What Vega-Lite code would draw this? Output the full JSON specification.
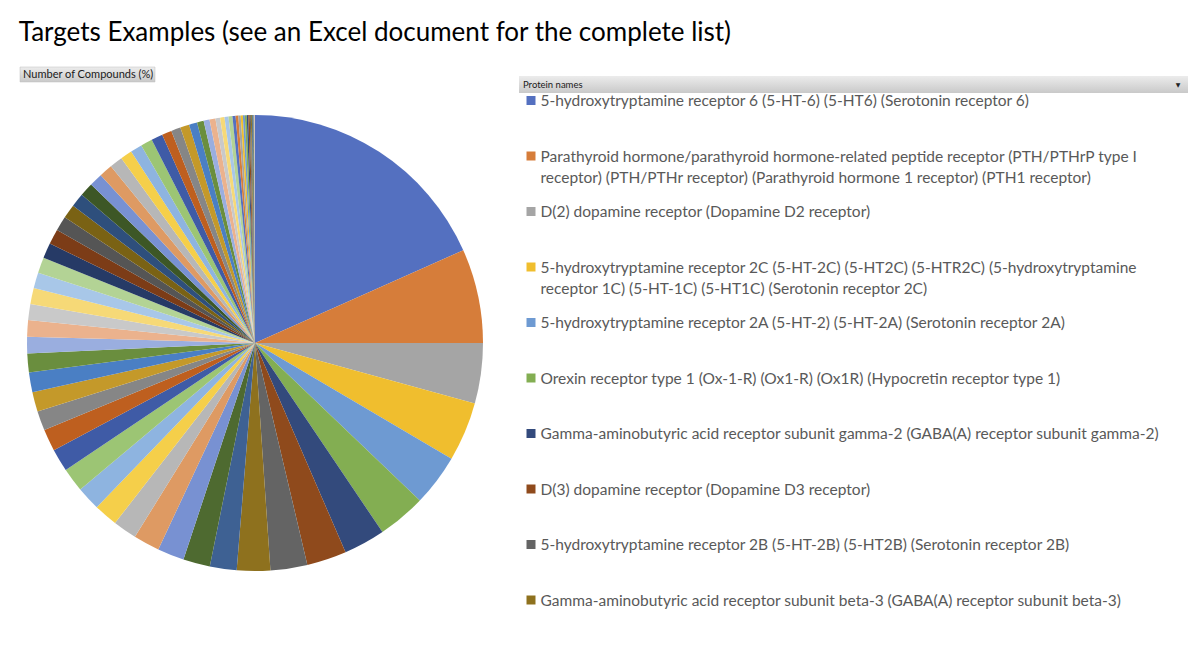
{
  "$schema": "https://vega.github.io/schema/vega-lite/v6.json",
  "padding": {"left": 18, "top": 19, "right": 5, "bottom": 4},
  "background": "white",
  "title": {"text": "Targets Examples (see an Excel document for the complete list)", "anchor": "start", "font": "Lato", "fontSize": 26, "fontWeight": "normal", "color": "#000000", "offset": 21, "dx": -1},
  "config": {"view": {"stroke": null}},
  "datasets": {
    "targets": [
      {"rank": 1, "name": "5-hydroxytryptamine receptor 6 (5-HT-6) (5-HT6) (Serotonin receptor 6)", "pct": 18.33},
      {"rank": 2, "name": "Parathyroid hormone/parathyroid hormone-related peptide receptor (PTH/PTHrP type I\nreceptor) (PTH/PTHr receptor) (Parathyroid hormone 1 receptor) (PTH1 receptor)", "pct": 6.67},
      {"rank": 3, "name": "D(2) dopamine receptor (Dopamine D2 receptor)", "pct": 4.28},
      {"rank": 4, "name": "5-hydroxytryptamine receptor 2C (5-HT-2C) (5-HT2C) (5-HTR2C) (5-hydroxytryptamine\nreceptor 1C) (5-HT-1C) (5-HT1C) (Serotonin receptor 2C)", "pct": 4.19},
      {"rank": 5, "name": "5-hydroxytryptamine receptor 2A (5-HT-2) (5-HT-2A) (Serotonin receptor 2A)", "pct": 3.67},
      {"rank": 6, "name": "Orexin receptor type 1 (Ox-1-R) (Ox1-R) (Ox1R) (Hypocretin receptor type 1)", "pct": 3.42},
      {"rank": 7, "name": "Gamma-aminobutyric acid receptor subunit gamma-2 (GABA(A) receptor subunit gamma-2)", "pct": 2.94},
      {"rank": 8, "name": "D(3) dopamine receptor (Dopamine D3 receptor)", "pct": 2.81},
      {"rank": 9, "name": "5-hydroxytryptamine receptor 2B (5-HT-2B) (5-HT2B) (Serotonin receptor 2B)", "pct": 2.61},
      {"rank": 10, "name": "Gamma-aminobutyric acid receptor subunit beta-3 (GABA(A) receptor subunit beta-3)", "pct": 2.36},
      {"rank": 11, "name": "Other target 11", "pct": 1.9},
      {"rank": 12, "name": "Other target 12", "pct": 1.9},
      {"rank": 13, "name": "Other target 13", "pct": 1.89},
      {"rank": 14, "name": "Other target 14", "pct": 1.86},
      {"rank": 15, "name": "Other target 15", "pct": 1.69},
      {"rank": 16, "name": "Other target 16", "pct": 1.69},
      {"rank": 17, "name": "Other target 17", "pct": 1.69},
      {"rank": 18, "name": "Other target 18", "pct": 1.69},
      {"rank": 19, "name": "Other target 19", "pct": 1.61},
      {"rank": 20, "name": "Other target 20", "pct": 1.56},
      {"rank": 21, "name": "Other target 21", "pct": 1.39},
      {"rank": 22, "name": "Other target 22", "pct": 1.39},
      {"rank": 23, "name": "Other target 23", "pct": 1.39},
      {"rank": 24, "name": "Other target 24", "pct": 1.33},
      {"rank": 25, "name": "Other target 25", "pct": 1.17},
      {"rank": 26, "name": "Other target 26", "pct": 1.17},
      {"rank": 27, "name": "Other target 27", "pct": 1.14},
      {"rank": 28, "name": "Other target 28", "pct": 1.14},
      {"rank": 29, "name": "Other target 29", "pct": 1.11},
      {"rank": 30, "name": "Other target 30", "pct": 1.11},
      {"rank": 31, "name": "Other target 31", "pct": 1.08},
      {"rank": 32, "name": "Other target 32", "pct": 1.08},
      {"rank": 33, "name": "Other target 33", "pct": 1.03},
      {"rank": 34, "name": "Other target 34", "pct": 1.0},
      {"rank": 35, "name": "Other target 35", "pct": 0.97},
      {"rank": 36, "name": "Other target 36", "pct": 0.97},
      {"rank": 37, "name": "Other target 37", "pct": 0.94},
      {"rank": 38, "name": "Other target 38", "pct": 0.94},
      {"rank": 39, "name": "Other target 39", "pct": 0.92},
      {"rank": 40, "name": "Other target 40", "pct": 0.83},
      {"rank": 41, "name": "Other target 41", "pct": 0.83},
      {"rank": 42, "name": "Other target 42", "pct": 0.83},
      {"rank": 43, "name": "Other target 43", "pct": 0.81},
      {"rank": 44, "name": "Other target 44", "pct": 0.69},
      {"rank": 45, "name": "Other target 45", "pct": 0.67},
      {"rank": 46, "name": "Other target 46", "pct": 0.64},
      {"rank": 47, "name": "Other target 47", "pct": 0.58},
      {"rank": 48, "name": "Other target 48", "pct": 0.47},
      {"rank": 49, "name": "Other target 49", "pct": 0.42},
      {"rank": 50, "name": "Other target 50", "pct": 0.42},
      {"rank": 51, "name": "Other target 51", "pct": 0.33},
      {"rank": 52, "name": "Other target 52", "pct": 0.31},
      {"rank": 53, "name": "Other target 53", "pct": 0.28},
      {"rank": 54, "name": "Other target 54", "pct": 0.28},
      {"rank": 55, "name": "Other target 55", "pct": 0.22},
      {"rank": 56, "name": "Other target 56", "pct": 0.19},
      {"rank": 57, "name": "Other target 57", "pct": 0.17},
      {"rank": 58, "name": "Other target 58", "pct": 0.15},
      {"rank": 59, "name": "Other target 59", "pct": 0.14},
      {"rank": 60, "name": "Other target 60", "pct": 0.13},
      {"rank": 61, "name": "Other target 61", "pct": 0.11},
      {"rank": 62, "name": "Other target 62", "pct": 0.1},
      {"rank": 63, "name": "Other target 63", "pct": 0.08},
      {"rank": 64, "name": "Other target 64", "pct": 0.07},
      {"rank": 65, "name": "Other target 65", "pct": 0.06},
      {"rank": 66, "name": "Other target 66", "pct": 0.06},
      {"rank": 67, "name": "Other target 67", "pct": 0.04},
      {"rank": 68, "name": "Other target 68", "pct": 0.03},
      {"rank": 69, "name": "Other target 69", "pct": 0.03}
    ]
  },
  "spacing": 29,
  "hconcat": [
    {
      "spacing": 25,
      "vconcat": [
        {
          "width": 135,
          "height": 15,
          "data": {"values": [{"label": "Number of Compounds (%)"}]},
          "layer": [
            {"mark": {"type": "rect", "fill": {"gradient": "linear", "x1": 0, "y1": 0, "x2": 0, "y2": 1, "stops": [{"offset": 0, "color": "#ececec"}, {"offset": 1, "color": "#c9c9c9"}]}, "stroke": "#bdbdbd", "strokeWidth": 0.5}, "encoding": {}},
            {"mark": {"type": "text", "font": "Lato", "fontSize": 11, "color": "#1a1a1a", "align": "left", "baseline": "middle", "dx": 3}, "encoding": {"text": {"field": "label"}, "x": {"datum": 0, "type": "quantitative", "scale": {"domain": [0, 1]}, "axis": null}}}
          ]
        },
        {
          "width": 470,
          "height": 470,
          "data": {"name": "targets"},
          "mark": {"type": "arc", "outerRadius": 228},
          "encoding": {
            "theta": {"field": "pct", "type": "quantitative", "stack": true},
            "order": {"field": "rank", "type": "quantitative"},
            "color": {
              "field": "name", "type": "nominal", "legend": null,
              "scale": {
                "domain": [
                  "5-hydroxytryptamine receptor 6 (5-HT-6) (5-HT6) (Serotonin receptor 6)",
                  "Parathyroid hormone/parathyroid hormone-related peptide receptor (PTH/PTHrP type I\nreceptor) (PTH/PTHr receptor) (Parathyroid hormone 1 receptor) (PTH1 receptor)",
                  "D(2) dopamine receptor (Dopamine D2 receptor)",
                  "5-hydroxytryptamine receptor 2C (5-HT-2C) (5-HT2C) (5-HTR2C) (5-hydroxytryptamine\nreceptor 1C) (5-HT-1C) (5-HT1C) (Serotonin receptor 2C)",
                  "5-hydroxytryptamine receptor 2A (5-HT-2) (5-HT-2A) (Serotonin receptor 2A)",
                  "Orexin receptor type 1 (Ox-1-R) (Ox1-R) (Ox1R) (Hypocretin receptor type 1)",
                  "Gamma-aminobutyric acid receptor subunit gamma-2 (GABA(A) receptor subunit gamma-2)",
                  "D(3) dopamine receptor (Dopamine D3 receptor)",
                  "5-hydroxytryptamine receptor 2B (5-HT-2B) (5-HT2B) (Serotonin receptor 2B)",
                  "Gamma-aminobutyric acid receptor subunit beta-3 (GABA(A) receptor subunit beta-3)",
                  "Other target 11", "Other target 12", "Other target 13", "Other target 14", "Other target 15", "Other target 16", "Other target 17", "Other target 18", "Other target 19", "Other target 20",
                  "Other target 21", "Other target 22", "Other target 23", "Other target 24", "Other target 25", "Other target 26", "Other target 27", "Other target 28", "Other target 29", "Other target 30",
                  "Other target 31", "Other target 32", "Other target 33", "Other target 34", "Other target 35", "Other target 36", "Other target 37", "Other target 38", "Other target 39", "Other target 40",
                  "Other target 41", "Other target 42", "Other target 43", "Other target 44", "Other target 45", "Other target 46", "Other target 47", "Other target 48", "Other target 49", "Other target 50",
                  "Other target 51", "Other target 52", "Other target 53", "Other target 54", "Other target 55", "Other target 56", "Other target 57", "Other target 58", "Other target 59", "Other target 60",
                  "Other target 61", "Other target 62", "Other target 63", "Other target 64", "Other target 65", "Other target 66", "Other target 67", "Other target 68", "Other target 69"
                ],
                "range": [
                  "#5470C0", "#D67D3A", "#A5A5A5", "#F0BE2E", "#6E9AD2", "#83AE52",
                  "#334A7C", "#8F4A1C", "#646464", "#8E711E", "#3E6193", "#4E6A30",
                  "#7891D2", "#DE9A63", "#B7B7B7", "#F5CF4A", "#8EB4E0", "#9CC574",
                  "#3F5BA6", "#BE5F1F", "#868686", "#C4992A", "#4A7FC4", "#6A8E3E",
                  "#9AAEDF", "#EBB28D", "#C9C9C9", "#F6D977", "#A8C7E8", "#B3D395",
                  "#263A66", "#7C3C17", "#555555", "#7A6214", "#2E4F7C", "#3D5726",
                  "#7891D2", "#DE9A63", "#B7B7B7", "#F5CF4A", "#8EB4E0", "#9CC574",
                  "#3F5BA6", "#BE5F1F", "#868686", "#C4992A", "#4A7FC4", "#6A8E3E",
                  "#9AAEDF", "#EBB28D", "#C9C9C9", "#F6D977", "#A8C7E8", "#B3D395",
                  "#5470C0", "#D67D3A", "#A5A5A5", "#F0BE2E", "#6E9AD2", "#83AE52",
                  "#334A7C", "#8F4A1C", "#646464", "#8E711E", "#3E6193", "#4E6A30",
                  "#7891D2", "#DE9A63", "#B7B7B7"
                ]
              }
            }
          }
        }
      ]
    },
    {
      "spacing": 0,
      "vconcat": [
        {"width": 669, "height": 9, "data": {"values": []}, "mark": {"type": "rect", "opacity": 0}, "encoding": {}},
        {
          "width": 669,
          "height": 17,
          "data": {"values": [{"label": "Protein names", "arrow": "▼"}]},
          "encoding": {"x": {"datum": 0, "type": "quantitative", "scale": {"domain": [0, 1]}, "axis": null}},
          "layer": [
            {"mark": {"type": "rect", "fill": {"gradient": "linear", "x1": 0, "y1": 0, "x2": 0, "y2": 1, "stops": [{"offset": 0, "color": "#ececec"}, {"offset": 1, "color": "#c9c9c9"}]}}, "encoding": {"x": null}},
            {"mark": {"type": "text", "font": "Lato", "fontSize": 9.5, "color": "#1a1a1a", "align": "left", "baseline": "middle", "dx": 4}, "encoding": {"text": {"field": "label"}}},
            {"mark": {"type": "text", "font": "DejaVu Sans", "fontSize": 6, "color": "#222222", "align": "center", "baseline": "middle", "dx": -10}, "encoding": {"text": {"field": "arrow"}, "x": {"datum": 1, "type": "quantitative"}}}
          ]
        },
        {
          "width": 669,
          "height": 555,
          "data": {"name": "targets"},
          "transform": [{"filter": "datum.rank <= 10"}],
          "encoding": {
            "y": {"field": "name", "type": "nominal", "sort": {"field": "rank", "op": "min"}, "bandPosition": 0, "scale": {"type": "band", "paddingInner": 0, "paddingOuter": 0}, "axis": null},
            "x": {"datum": 0, "type": "quantitative", "scale": {"domain": [0, 1]}, "axis": null}
          },
          "layer": [
            {
              "mark": {"type": "square", "size": 81, "opacity": 1, "xOffset": 12, "yOffset": 7.5},
              "encoding": {
                "color": {
                  "field": "name", "type": "nominal", "legend": null,
                  "scale": {
                    "domain": [
                      "5-hydroxytryptamine receptor 6 (5-HT-6) (5-HT6) (Serotonin receptor 6)",
                      "Parathyroid hormone/parathyroid hormone-related peptide receptor (PTH/PTHrP type I\nreceptor) (PTH/PTHr receptor) (Parathyroid hormone 1 receptor) (PTH1 receptor)",
                      "D(2) dopamine receptor (Dopamine D2 receptor)",
                      "5-hydroxytryptamine receptor 2C (5-HT-2C) (5-HT2C) (5-HTR2C) (5-hydroxytryptamine\nreceptor 1C) (5-HT-1C) (5-HT1C) (Serotonin receptor 2C)",
                      "5-hydroxytryptamine receptor 2A (5-HT-2) (5-HT-2A) (Serotonin receptor 2A)",
                      "Orexin receptor type 1 (Ox-1-R) (Ox1-R) (Ox1R) (Hypocretin receptor type 1)",
                      "Gamma-aminobutyric acid receptor subunit gamma-2 (GABA(A) receptor subunit gamma-2)",
                      "D(3) dopamine receptor (Dopamine D3 receptor)",
                      "5-hydroxytryptamine receptor 2B (5-HT-2B) (5-HT2B) (Serotonin receptor 2B)",
                      "Gamma-aminobutyric acid receptor subunit beta-3 (GABA(A) receptor subunit beta-3)",
                      "Other target 11", "Other target 12", "Other target 13", "Other target 14", "Other target 15", "Other target 16", "Other target 17", "Other target 18", "Other target 19", "Other target 20",
                      "Other target 21", "Other target 22", "Other target 23", "Other target 24", "Other target 25", "Other target 26", "Other target 27", "Other target 28", "Other target 29", "Other target 30",
                      "Other target 31", "Other target 32", "Other target 33", "Other target 34", "Other target 35", "Other target 36", "Other target 37", "Other target 38", "Other target 39", "Other target 40",
                      "Other target 41", "Other target 42", "Other target 43", "Other target 44", "Other target 45", "Other target 46", "Other target 47", "Other target 48", "Other target 49", "Other target 50",
                      "Other target 51", "Other target 52", "Other target 53", "Other target 54", "Other target 55", "Other target 56", "Other target 57", "Other target 58", "Other target 59", "Other target 60",
                      "Other target 61", "Other target 62", "Other target 63", "Other target 64", "Other target 65", "Other target 66", "Other target 67", "Other target 68", "Other target 69"
                    ],
                    "range": [
                      "#5470C0", "#D67D3A", "#A5A5A5", "#F0BE2E", "#6E9AD2", "#83AE52",
                      "#334A7C", "#8F4A1C", "#646464", "#8E711E", "#3E6193", "#4E6A30",
                      "#7891D2", "#DE9A63", "#B7B7B7", "#F5CF4A", "#8EB4E0", "#9CC574",
                      "#3F5BA6", "#BE5F1F", "#868686", "#C4992A", "#4A7FC4", "#6A8E3E",
                      "#9AAEDF", "#EBB28D", "#C9C9C9", "#F6D977", "#A8C7E8", "#B3D395",
                      "#263A66", "#7C3C17", "#555555", "#7A6214", "#2E4F7C", "#3D5726",
                      "#7891D2", "#DE9A63", "#B7B7B7", "#F5CF4A", "#8EB4E0", "#9CC574",
                      "#3F5BA6", "#BE5F1F", "#868686", "#C4992A", "#4A7FC4", "#6A8E3E",
                      "#9AAEDF", "#EBB28D", "#C9C9C9", "#F6D977", "#A8C7E8", "#B3D395",
                      "#5470C0", "#D67D3A", "#A5A5A5", "#F0BE2E", "#6E9AD2", "#83AE52",
                      "#334A7C", "#8F4A1C", "#646464", "#8E711E", "#3E6193", "#4E6A30",
                      "#7891D2", "#DE9A63", "#B7B7B7"
                    ]
                  }
                }
              }
            },
            {
              "mark": {"type": "text", "font": "Lato", "fontSize": 15.5, "color": "#595959", "align": "left", "baseline": "alphabetic", "lineBreak": "\n", "lineHeight": 21, "xOffset": 21.5, "yOffset": 13},
              "encoding": {"text": {"field": "name"}}
            }
          ]
        }
      ]
    }
  ]
}
